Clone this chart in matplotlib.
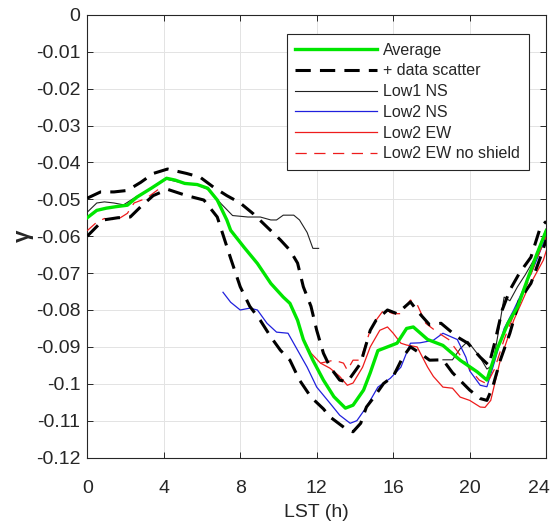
import numpy as np
import matplotlib
matplotlib.use("Agg")
import matplotlib.pyplot as plt
import matplotlib.ticker as ticker
from matplotlib.transforms import ScaledTranslation

# ---------------------------------------------------------------------------
# Data
# ---------------------------------------------------------------------------

avg_h = [0, 0.5, 1.0, 1.5, 2.1, 2.6, 3.35, 4.15, 4.6, 5.1, 5.75, 6.3, 6.8, 7.3,
         7.5, 8.2, 8.9, 9.6, 10.25, 10.6, 11.0, 11.3, 11.8, 12.35, 12.9, 13.5,
         13.9, 14.45, 14.8, 15.2, 15.7, 16.2, 16.7, 17.05, 17.8, 18.6, 19.5,
         20.4, 20.9, 21.4, 22.0, 22.5, 23.0, 23.5, 24]
avg_g = [-0.0550, -0.0530, -0.0524, -0.0520, -0.0516, -0.0494, -0.0470, -0.0443,
         -0.0448, -0.0457, -0.0460, -0.0470, -0.0502, -0.0556, -0.0584, -0.0630,
         -0.0674, -0.0728, -0.0765, -0.0782, -0.0828, -0.0880, -0.0936, -0.0990,
         -0.1035, -0.1066, -0.1058, -0.1017, -0.0970, -0.0910, -0.0900, -0.0890,
         -0.0850, -0.0846, -0.0880, -0.0896, -0.0936, -0.0968, -0.0990, -0.0910,
         -0.0836, -0.0792, -0.0720, -0.0650, -0.0585]

up_h = [0, 0.7, 1.4, 2.1, 2.8, 3.45, 4.2, 5.2, 5.9, 6.6, 7.3, 8.0, 8.7, 9.2,
        10.1, 10.6, 11.0, 11.3, 11.7, 12.0, 12.35, 12.7, 13.2, 13.6, 14.3, 14.8,
        15.1, 15.7, 16.2, 16.9, 17.3, 17.9, 18.5, 19.35, 19.9, 20.55, 21.0,
        21.3, 21.7, 22.1, 22.6, 23.2, 23.7, 24]
up_g = [-0.0497, -0.0480, -0.0480, -0.0476, -0.0454, -0.0430, -0.0418, -0.0430,
        -0.0440, -0.0467, -0.0490, -0.0510, -0.0540, -0.0565, -0.0610, -0.0638,
        -0.0673, -0.0737, -0.0790, -0.0855, -0.0917, -0.0955, -0.0990, -0.0995,
        -0.0944, -0.0855, -0.0828, -0.0800, -0.0810, -0.0778, -0.0805, -0.0840,
        -0.0836, -0.0873, -0.0890, -0.0928, -0.0950, -0.0890, -0.0800, -0.0746,
        -0.0700, -0.0657, -0.0575, -0.0560]

lo_h = [0, 0.84, 1.6, 2.25, 2.8, 3.45, 4.2, 5.2, 6.1, 6.8, 7.5, 8.0, 8.5, 9.05,
        9.6, 10.1, 10.6, 11.1, 11.7, 12.35, 12.7, 13.6, 13.9, 14.3, 14.6, 15.0,
        15.5, 16.0, 16.5, 16.9, 17.4, 17.9, 18.6, 19.1, 20.0, 20.55, 20.9, 21.2,
        21.6, 22.1, 22.6, 23.2, 23.7, 24]
lo_g = [-0.0600, -0.0556, -0.0550, -0.0548, -0.0520, -0.0490, -0.0473, -0.0490,
        -0.0502, -0.0548, -0.0660, -0.0737, -0.0790, -0.0828, -0.0873, -0.0909,
        -0.0936, -0.0990, -0.1036, -0.1068, -0.1090, -0.1125, -0.1130, -0.1107,
        -0.1063, -0.1036, -0.0999, -0.0980, -0.0928, -0.0900, -0.0917, -0.0936,
        -0.0935, -0.0970, -0.1017, -0.1040, -0.1045, -0.1009, -0.0936, -0.0863,
        -0.0773, -0.0728, -0.0657, -0.0610]

# Low1 NS: two pieces (NaN splits them)
low1_h = [0, 0.5, 0.9, 1.4, 1.9, 2.5, 3.3, 4.1, 5.0, 5.8, 6.4, 6.8, 7.0, 7.6,
          8.4, 9.05, 9.6, 9.9, 10.25, 10.8, 11.1, 11.5, 11.8, 12.1,
          np.nan,
          18.6, 19.1, 19.5, 19.9, 20.5, 20.9, 21.2, 21.5, 21.8, 22.1, 22.5,
          22.9, 23.4, 24]
low1_g = [-0.0535, -0.0510, -0.0507, -0.0510, -0.0515, -0.0495, -0.0472, -0.0445,
          -0.0456, -0.0462, -0.0475, -0.0500, -0.0512, -0.0544, -0.0548, -0.0548,
          -0.0556, -0.0556, -0.0543, -0.0543, -0.0556, -0.0590, -0.0633, -0.0633,
          np.nan,
          -0.0935, -0.0935, -0.0905, -0.0885, -0.0925, -0.0960, -0.0950, -0.0860,
          -0.0765, -0.0775, -0.0737, -0.0705, -0.0660, -0.0580]

low2ns_h = [7.1, 7.5, 8.0, 8.5, 8.9, 9.4, 9.9, 10.5, 11.0, 11.5, 12.0, 12.7, 13.2,
            13.75, 14.1, 14.6, 15.2, 15.85, 16.4, 16.9, 17.4, 18.1, 18.6, 19.35,
            19.8, 20.0, 20.55, 20.9, 21.3, 21.8, 22.3, 22.8, 23.3, 24]
low2ns_g = [-0.0752, -0.0779, -0.0800, -0.0795, -0.0800, -0.0836, -0.0860, -0.0863,
            -0.0909, -0.0955, -0.1009, -0.1053, -0.1085, -0.1107, -0.1100, -0.1063,
            -0.1009, -0.0985, -0.0955, -0.0890, -0.0889, -0.0882, -0.0863, -0.0880,
            -0.0928, -0.0965, -0.1004, -0.1008, -0.0940, -0.0850, -0.0800, -0.0745,
            -0.0690, -0.0600]

low2ew_h = [11.2, 11.7, 12.2, 12.7, 13.2, 13.6, 13.9, 14.4, 14.8, 15.3, 15.7, 16.0,
            16.4, 16.7, 17.25, 17.8, 18.1, 18.6, 19.1, 19.5, 20.0, 20.55, 20.8,
            21.1, 21.6, 22.3, 23.0, 23.85, 24]
low2ew_g = [-0.0868, -0.0917, -0.0944, -0.0958, -0.0980, -0.1004, -0.0998, -0.0955,
            -0.0900, -0.0855, -0.0846, -0.0863, -0.0890, -0.0895, -0.0900, -0.0955,
            -0.0980, -0.1009, -0.1012, -0.1036, -0.1045, -0.1063, -0.1064, -0.1045,
            -0.0936, -0.0828, -0.0746, -0.0665, -0.0640]

noshield_h = [0, 0.5, 0.9, 1.55, 2.1, 2.45, 3.1, 3.8,
              np.nan,
              12.2, 12.9, 13.4, 13.6, 13.9, 14.3, 14.45, 14.8, 15.1, 15.5, 16.0,
              16.4, 16.9, 17.25, 17.7, 18.3, 18.9, 19.4, 20.0, 20.5, 20.9, 21.3,
              21.8, 22.4, 23.0, 23.6, 24]
noshield_g = [-0.0585, -0.0562, -0.0552, -0.0556, -0.0538, -0.0510, -0.0497, -0.0470,
              np.nan,
              -0.0944, -0.0936, -0.0944, -0.0963, -0.0936, -0.0936, -0.0910, -0.0855,
              -0.0828, -0.0800, -0.0810, -0.0810, -0.0773, -0.0785, -0.0836, -0.0860,
              -0.0880, -0.0915, -0.0960, -0.0990, -0.1000, -0.0960, -0.0880, -0.0800,
              -0.0730, -0.0650, -0.0600]

x_ticks = [0, 4, 8, 12, 16, 20, 24]
y_ticks = [0, -0.01, -0.02, -0.03, -0.04, -0.05, -0.06, -0.07, -0.08, -0.09,
           -0.1, -0.11, -0.12]

# ---------------------------------------------------------------------------
# Figure
# ---------------------------------------------------------------------------

plt.rcParams["font.family"] = ["Liberation Sans", "DejaVu Sans"]

fig = plt.figure(figsize=(5.52, 5.29), dpi=100)
ax = fig.add_axes([0.158, 0.135, 0.8315, 0.837])

dash = (0, (5, 3))
ax.plot(avg_h, avg_g, color="#00e600", lw=2.4, zorder=6, label="Average")
ax.plot(up_h, up_g, color="black", lw=2.2, linestyle=dash, zorder=5,
        label="+ data scatter")
ax.plot(lo_h, lo_g, color="black", lw=2.2, linestyle=dash, zorder=5)
ax.plot(low1_h, low1_g, color="#222222", lw=0.8, zorder=4, label="Low1 NS")
ax.plot(low2ns_h, low2ns_g, color="#2020dd", lw=0.9, zorder=4, label="Low2 NS")
ax.plot(low2ew_h, low2ew_g, color="#ee1c1c", lw=0.9, zorder=4, label="Low2 EW")
ax.plot(noshield_h, noshield_g, color="#ee1c1c", lw=0.9, linestyle=(0, (9, 6)),
        zorder=4, label="Low2 EW no shield")

ax.set_xlim(0, 24)
ax.set_ylim(-0.12, 0)
ax.xaxis.set_major_locator(ticker.FixedLocator(x_ticks))
ax.yaxis.set_major_locator(ticker.FixedLocator(y_ticks))
ax.yaxis.set_major_formatter(
    ticker.FuncFormatter(lambda v, _p: "0" if abs(v) < 1e-9 else f"{v:g}"))

ax.grid(True, color="#e3e3e3", linewidth=0.7, zorder=0)
for spine in ax.spines.values():
    spine.set_color("#262626")
    spine.set_linewidth(0.8)
ax.tick_params(direction="in", length=4, width=0.7, top=True, right=True,
               labelsize=14, colors="#262626")
ax.tick_params(axis="x", pad=16)
ax.tick_params(axis="y", pad=5)

# keep the last x label inside the canvas
fig.canvas.draw()
last = ax.get_xticklabels()[-1]
last.set_transform(last.get_transform()
                   + ScaledTranslation(-0.07, 0, fig.dpi_scale_trans))

ax.set_xlabel("LST (h)", fontsize=14, color="#262626", labelpad=5)
ax.set_ylabel("γ", fontsize=16, fontweight="bold", color="#262626", labelpad=1)

leg = ax.legend(loc="upper right", bbox_to_anchor=(0.958, 0.936),
                bbox_transform=fig.transFigure, fontsize=11.5, handlelength=5.1,
                handletextpad=0.4, labelspacing=0.36, borderpad=0.55,
                frameon=True, fancybox=False, framealpha=1, borderaxespad=0)
leg.get_frame().set_edgecolor("#262626")
leg.get_frame().set_linewidth(0.8)
for t in leg.get_texts():
    t.set_color("#262626")

fig.savefig("out.png", dpi=100)
